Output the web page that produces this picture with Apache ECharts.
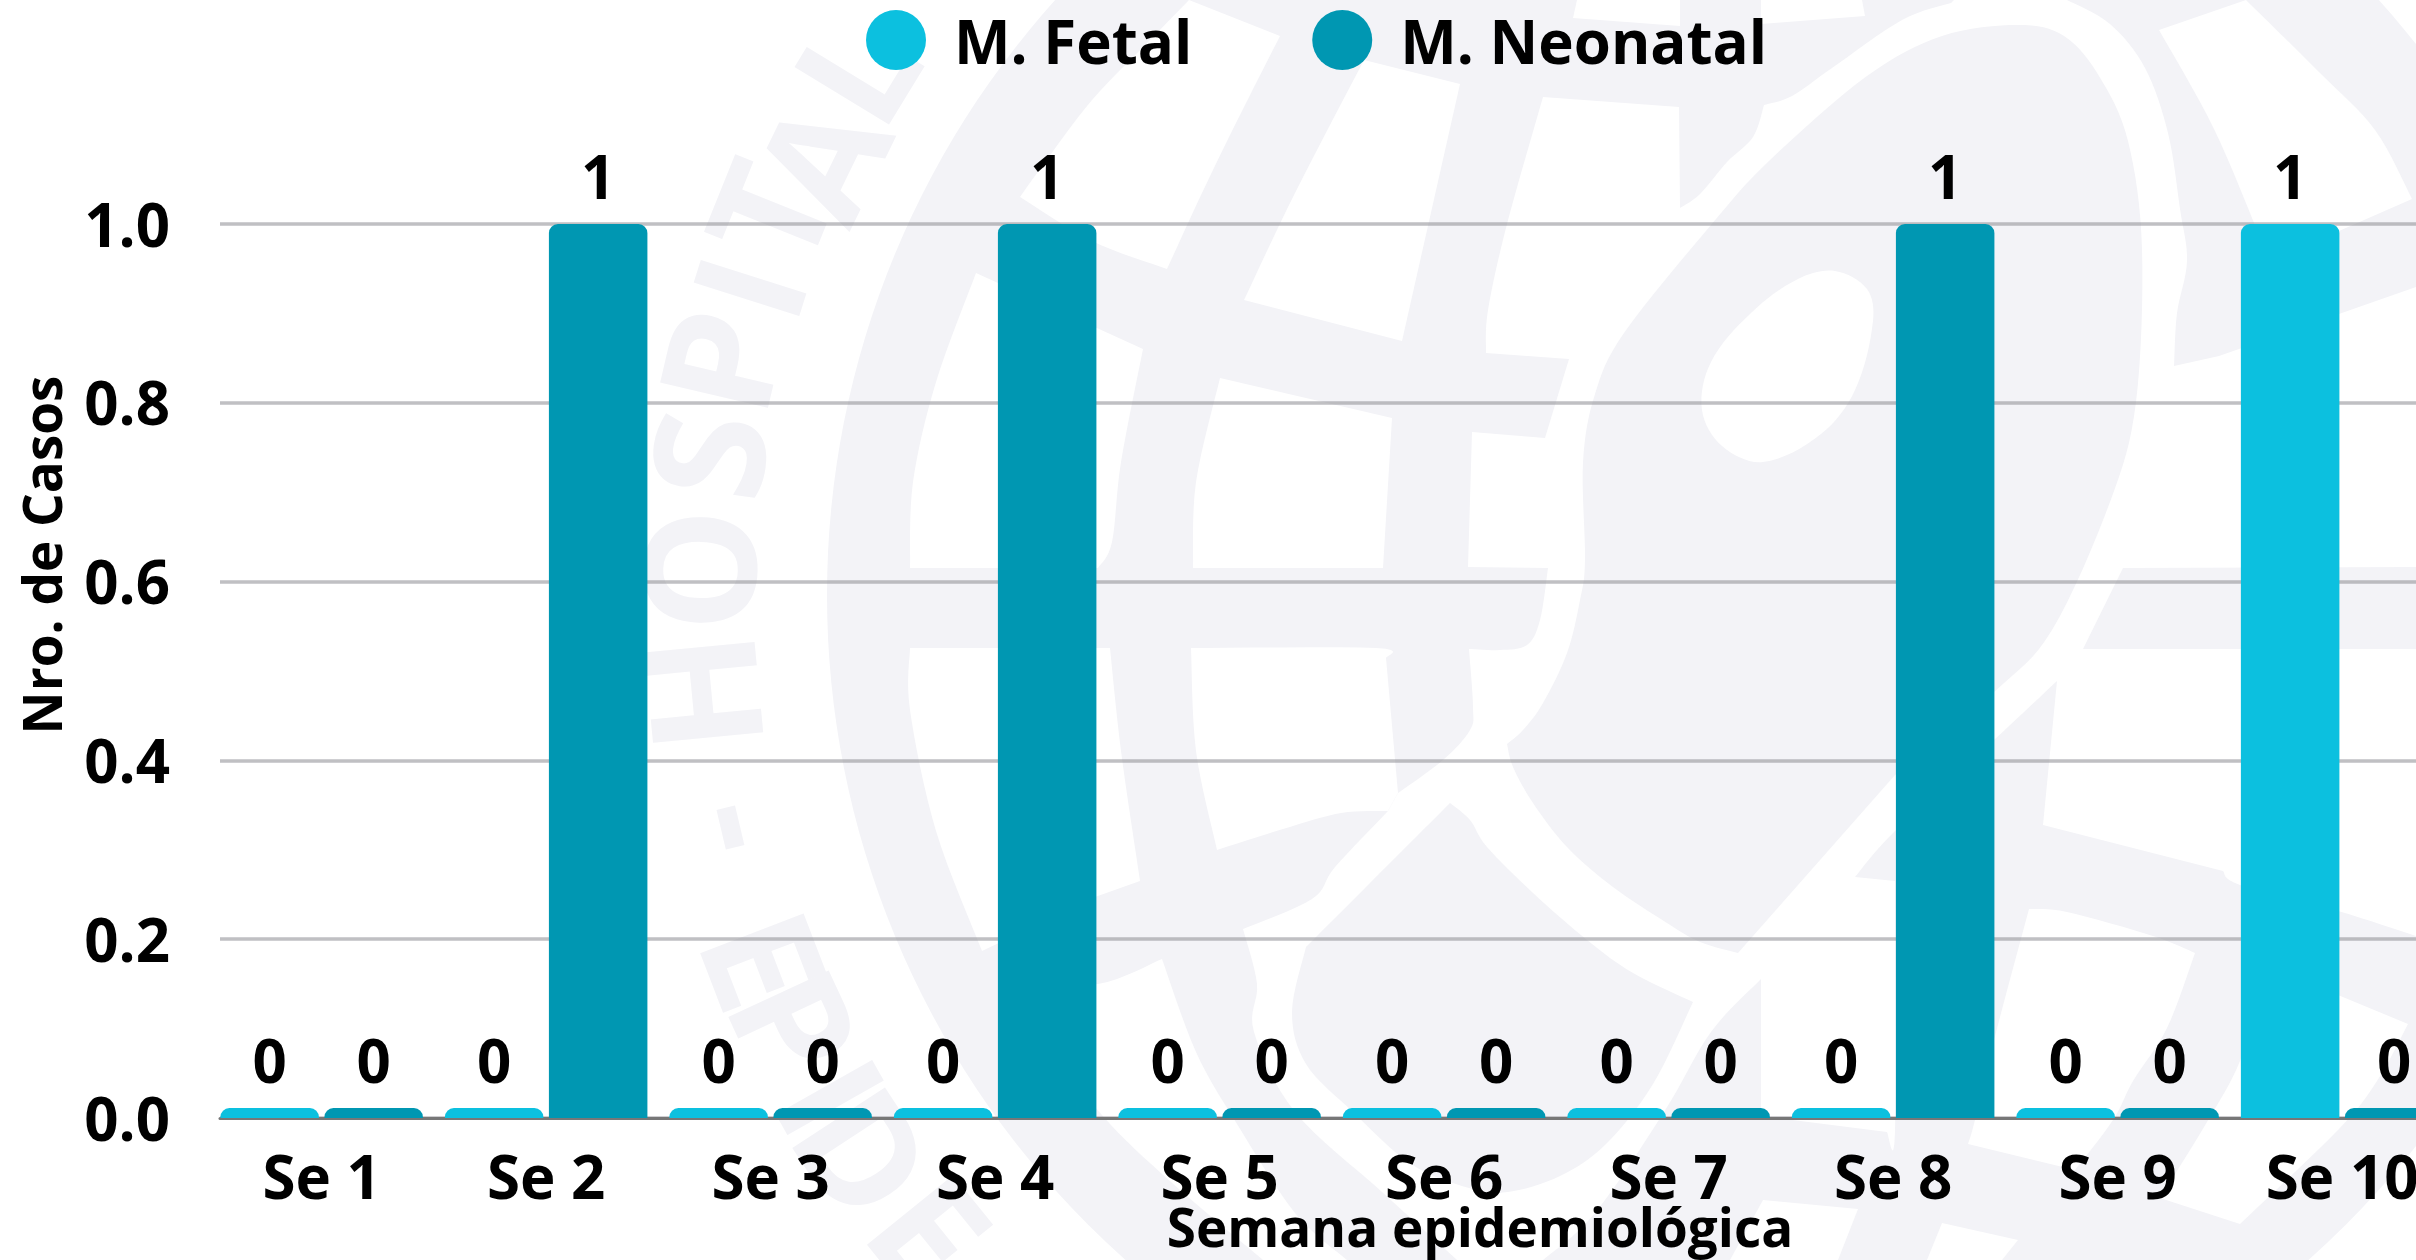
<!DOCTYPE html>
<html>
<head>
<meta charset="utf-8">
<style>html,body{margin:0;padding:0;background:#fff;overflow:hidden}#c{width:2416px;height:1260px}</style>
<script src="https://cdn.jsdelivr.net/npm/echarts@6/dist/echarts.min.js"></script>
</head>
<body>
<div id="c"></div>
<script>
const categories = ['Se 1','Se 2','Se 3','Se 4','Se 5','Se 6','Se 7','Se 8','Se 9','Se 10'];
const fetalValues = [0,0,0,0,0,0,0,0,0,1];
const neonatalValues = [0,1,0,1,0,0,0,1,0,0];
const seriesNames = ['M. Fetal','M. Neonatal'];
const xTitle = 'Semana epidemiológica';
const yTitle = 'Nro. de Casos';

const FONT = '"Open Sans"';
const GRAY = '#f3f3f7';

/* Decorative background emblem: each shape is a list of edge runs; runs of 3+ points are curved */
const EC = [1717,595];
const whitePanels = [
 [[[1020,197],[1040,169],[1092,100],[1150,40],[1189,0]],[[1280,36],[1237,121],[1202,193],[1167,269]],[[1167,269],[1092,241],[1020,197]]],
 [[[976,273],[1143,349]],[[1143,349],[1121,462],[1112,542],[1098,568]],[[910,568],[913,482],[936,382],[976,273]]],
 [[[1364,60],[1460,84]],[[1460,84],[1402,341]],[[1244,300],[1295,193],[1364,60]]],
 [[[1220,378],[1392,418]],[[1392,418],[1383,568]],[[1193,568],[1196,482],[1220,378]]],
 [[[1191,648],[1376,648],[1386,658]],[[1386,658],[1398,793]],[[1388,811],[1341,813],[1283,829],[1217,850]],[[1217,850],[1196,751],[1191,648]]],
 [[[910,648],[1110,648]],[[1110,648],[1121,751],[1140,881]],[[1095,897],[982,951]],[[982,951],[936,831],[910,710],[910,648]]],
 [[[1012,984],[1098,984],[1162,959]],[[1162,959],[1196,1052],[1237,1124],[1295,1213],[1347,1260]],[[1263,1260],[1180,1190],[1110,1124],[1060,1060],[1012,984]]],
 [[[1398,793],[1443,760],[1470,730],[1473,707],[1469,649]],[[1469,649],[1500,650],[1527,645],[1540,620],[1548,568]],[[1468,567],[1472,432]],[[1545,438],[1569,359]],[[1486,353],[1488,310],[1507,224],[1543,97]],[[1679,107],[1680,208]],[[1680,208],[1700,194],[1727,162],[1753,137],[1764,105]],[[1764,105],[1792,96],[1832,68],[1902,20],[1951,3]],[[1954,0],[2067,0]],[[2067,0],[2110,24],[2145,68],[2168,133],[2180,209],[2187,261],[2177,313],[2174,366]],[[2219,356],[2416,287]],[[2416,567],[2123,568]],[[2123,568],[2083,649]],[[2416,649],[2416,936]],[[2416,936],[2338,911],[2240,885],[2223,871]],[[2043,825],[2057,681]],[[2057,681],[1994,740],[1895,831],[1855,877]],[[1895,881],[1895,1132],[1887,1132]],[[1761,1116],[1761,979]],[[1761,979],[1711,1032],[1664,1112],[1595,1213],[1543,1260]],[[1457,1260],[1382,1192],[1295,1112],[1254,1032],[1257,984],[1243,929]],[[1243,929],[1312,899],[1335,867],[1388,811]]],
 [[[2029,909],[2067,912],[2153,936],[2195,953]],[[2195,953],[2167,1028],[2133,1081],[2113,1120],[2075,1170]],[[1968,1144],[1975,1120],[1994,1040],[2029,909]]],
 [[[2338,995],[2408,1024]],[[2408,1024],[2377,1081],[2338,1130],[2240,1224]],[[2160,1198],[2207,1122],[2240,1061],[2260,990]]],
 [[[1942,1223],[2018,1240]],[[2002,1260],[1927,1260]]],
 [[[1763,1200],[1858,1209]],[[1838,1260],[1730,1260]]],
 [[[2159,30],[2246,0]],[[2246,0],[2319,72],[2375,130],[2412,199]],[[2339,231],[2261,240]],[[2261,240],[2214,129],[2159,30]]],
 [[[1577,0],[1680,0]],[[1680,26],[1573,18]]],
 [[[1761,0],[1862,0]],[[1865,16],[1761,24]]]
];
const grayShapes = [
 [[[1507,744],[1513,767],[1533,803],[1567,847],[1613,887],[1667,923],[1700,942],[1738,953]],[[1738,953],[1895,775]],[[1895,775],[1994,692],[2052,630],[2110,502],[2136,402],[2142,249],[2128,141],[2099,76],[2064,36],[2018,25],[1942,36],[1867,76],[1769,161],[1711,225],[1624,333],[1595,394],[1583,462],[1585,560],[1580,600],[1567,653],[1543,703],[1523,730],[1507,744]]],
 [[[1450,803],[1470,820],[1487,847],[1533,893],[1587,940],[1633,973],[1693,1002]],[[1693,1002],[1653,1084],[1606,1144],[1560,1176],[1508,1192],[1469,1188],[1411,1164],[1353,1112],[1306,1064],[1292,1012],[1306,947]],[[1306,947],[1400,853],[1450,803]]]
];
const beanHole = [[1835,271],[1867,289],[1873,321],[1855,390],[1821,434],[1763,462],[1722,446],[1702,410],[1711,362],[1751,313],[1798,279]];
const lettersUp = [['H',707,692],['O',704,570],['S',713,456],['P',725,362],['I',753,289],['T',774,215],['A',826,161],['L',860,72]];
const lettersDown = [['-',733,827],['E',752,965],['P',783,1030],['I',820,1103],['D',853,1160],['E',920,1240]];

function curve(run) {
  if (run.length < 3) return run;
  const out = [];
  for (let i = 0; i < run.length-1; i++) {
    const p0 = run[Math.max(i-1,0)], p1 = run[i], p2 = run[i+1], p3 = run[Math.min(i+2,run.length-1)];
    for (let k = 0; k < 8; k++) {
      const t = k/8, t2 = t*t, t3 = t2*t;
      out.push([0,1].map(d => 0.5*(2*p1[d] + (p2[d]-p0[d])*t + (2*p0[d]-5*p1[d]+4*p2[d]-p3[d])*t2 + (3*p1[d]-p0[d]-3*p2[d]+p3[d])*t3)));
    }
  }
  out.push(run[run.length-1]);
  return out;
}
const build = shape => shape.flatMap(curve);

function emblem() {
  const els = [];
  els.push({type:'circle', z:-10, silent:true, shape:{cx:EC[0],cy:EC[1],r:890}, style:{fill:GRAY}});
  let z2 = 1;
  whitePanels.forEach(p => els.push({type:'polygon', z:-10, z2:z2++, silent:true, shape:{points:build(p)}, style:{fill:'#fff'}}));
  grayShapes.forEach(p => els.push({type:'polygon', z:-10, z2:z2++, silent:true, shape:{points:build(p)}, style:{fill:GRAY}}));
  els.push({type:'polygon', z:-10, z2:z2++, silent:true, shape:{points:beanHole, smooth:0.35}, style:{fill:'#fff'}});
  const letter = (l, up) => {
    const ox = l[1]-EC[0], oy = l[2]-EC[1];
    const len = Math.hypot(ox,oy);
    const shift = up ? 8 : 0;
    const rot = up ? Math.atan2(-ox,-oy) : Math.atan2(ox,oy);
    els.push({type:'text', z:-10, z2:z2, silent:true, x:l[1]-ox/len*shift, y:l[2]-oy/len*shift, rotation:rot,
      style:{text:l[0], fill:GRAY, font:'bold 155px '+FONT, textAlign:'center', textVerticalAlign:'middle'}});
  };
  lettersUp.forEach(l => letter(l,true));
  lettersDown.forEach(l => letter(l,false));
  return els;
}

const chart = echarts.init(document.getElementById('c'), null, {renderer:'canvas', width:2416, height:1260});
const common = {fontFamily:FONT, fontWeight:700, color:'#000', fontSize:60};
const barSeries = (name, data, color) => ({
  name, type:'bar', xAxisIndex:0, yAxisIndex:0, data,
  barWidth:98.5, barGap:'5.6%', barMinHeight:10,
  itemStyle:{color, borderRadius:[9,9,0,0]},
  label:{show:true, position:'top', distance:12.5, ...common}
});
chart.setOption({
  animation:false,
  backgroundColor:'#fff',
  graphic:{elements:emblem()},
  color:['#0cc0df','#0097b2'],
  legend:{
    top:10, left:866, padding:0, icon:'circle', itemWidth:60, itemHeight:60, itemGap:120,
    data:seriesNames,
    formatter:n => '{a|'+n+'}',
    textStyle:{...common, rich:{a:{...common, padding:[14,0,0,23]}}}
  },
  grid:[
    {left:209.4, top:224, width:2245, height:894, outerBoundsMode:'none'},
    {left:220, top:224, width:2520, height:894, outerBoundsMode:'none'}
  ],
  xAxis:[
    {type:'category', gridIndex:0, data:categories,
      axisLine:{show:false}, axisTick:{show:false},
      axisLabel:{...common, interval:0, margin:34}},
    {type:'value', gridIndex:1, min:0, max:1,
      name:xTitle, nameLocation:'middle', nameGap:87,
      nameTextStyle:{...common, fontSize:53},
      axisLabel:{show:false}, axisTick:{show:false}, splitLine:{show:false},
      axisLine:{show:true, lineStyle:{color:'#777', width:3}}}
  ],
  yAxis:[
    {type:'value', gridIndex:0, min:0, max:1, show:false, splitLine:{show:false}},
    {type:'value', gridIndex:1, min:0, max:1, interval:0.2,
      name:yTitle, nameLocation:'middle', nameGap:129, nameRotate:90,
      nameTextStyle:{...common, fontSize:53, padding:[0,0,0,232]},
      axisLine:{show:false}, axisTick:{show:false},
      axisLabel:{...common, margin:50, verticalAlign:'top', lineHeight:11, formatter:v => v.toFixed(1)},
      splitLine:{show:true, lineStyle:{color:'rgba(140,140,145,0.55)', width:3.5}}}
  ],
  series:[
    barSeries(seriesNames[0], fetalValues, '#0cc0df'),
    barSeries(seriesNames[1], neonatalValues, '#0097b2')
  ]
});
</script>
</body>
</html>
